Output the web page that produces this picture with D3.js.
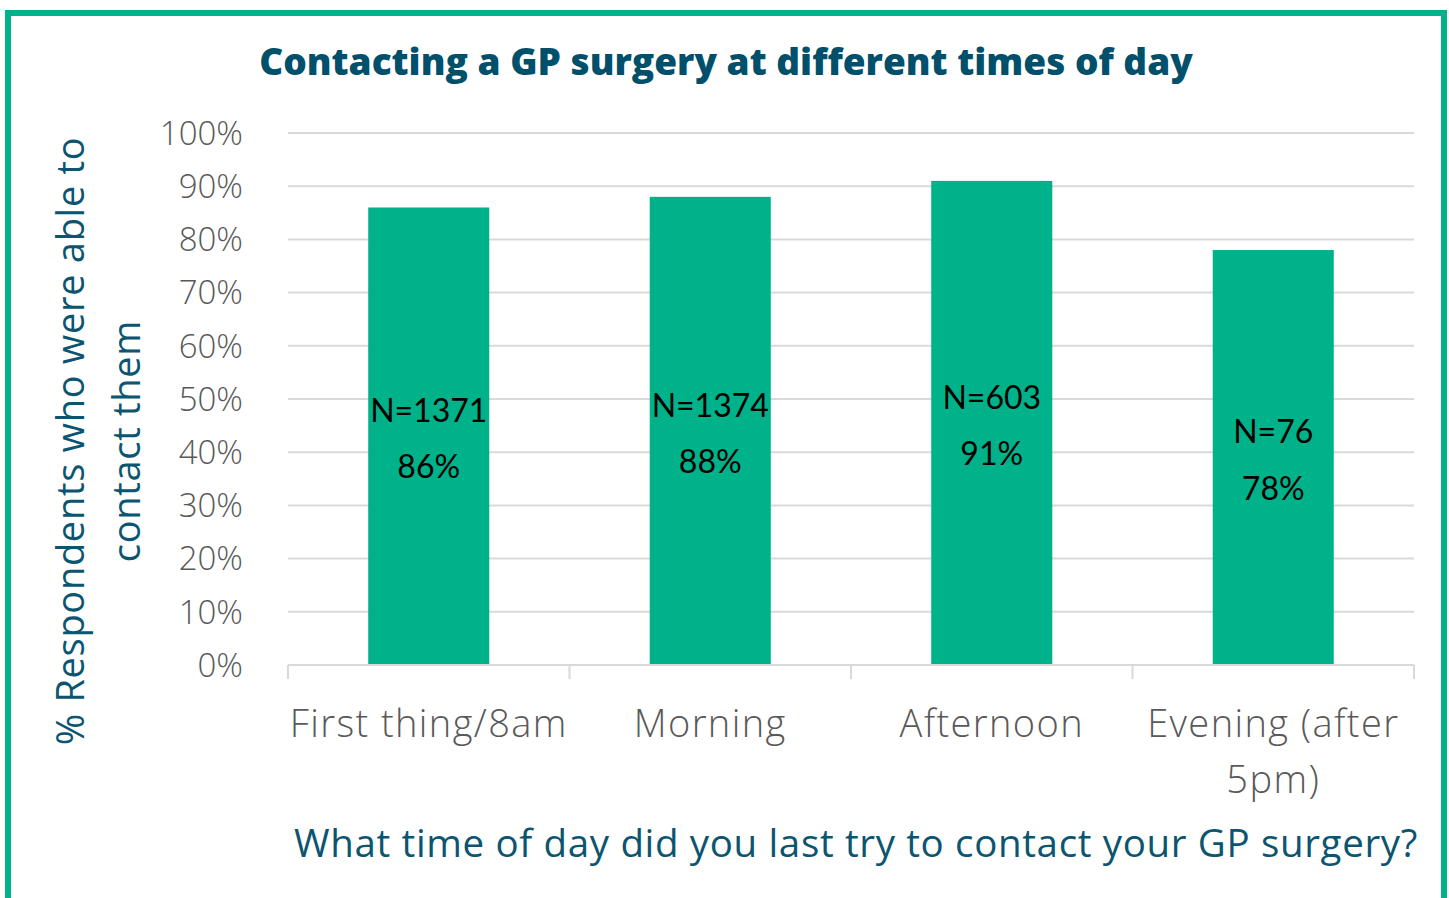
<!DOCTYPE html>
<html><head><meta charset="utf-8">
<script src="https://cdn.jsdelivr.net/npm/d3@7"></script>
<style>
html,body{margin:0;padding:0;background:#fff;}
svg{display:block;}
text{font-family:"Open Sans","Lato",sans-serif;}
</style></head>
<body>
<svg id="chart" width="1449" height="898"></svg>
<script>
const categories = ["First thing/8am", "Morning", "Afternoon", "Evening (after 5pm)"];
const categoryLines = [["First thing/8am"], ["Morning"], ["Afternoon"], ["Evening (after", "5pm)"]];
const values = [0.86, 0.88, 0.91, 0.78];
const counts = [1371, 1374, 603, 76];
const yTicks = [0, 0.1, 0.2, 0.3, 0.4, 0.5, 0.6, 0.7, 0.8, 0.9, 1.0];
const titleText = "Contacting a GP surgery at different times of day";
const yTitleLines = ["% Respondents who were able to", "contact them"];
const xTitleText = "What time of day did you last try to contact your GP surgery?";

const svg = d3.select("#chart");
const green = "#00B28A", teal = "#0B5570", gray = "#595959";

// border
svg.append("path")
  .attr("d", "M8,900 L8,13 L1444,13 L1444,900")
  .attr("fill", "none").attr("stroke", green).attr("stroke-width", 6);

const m = {left: 288, right: 1414, top: 133, bottom: 665};
const x = d3.scaleBand().domain(categories).range([m.left, m.right]).paddingInner(0).paddingOuter(0);
const y = d3.scaleLinear().domain([0, 1]).range([m.bottom, m.top]);
const barW = x.bandwidth() * 0.43;

// gridlines
svg.append("g").selectAll("line").data(yTicks.filter(d => d > 0)).join("line")
  .attr("x1", m.left).attr("x2", m.right)
  .attr("y1", d => y(d)).attr("y2", d => y(d))
  .attr("stroke", "#d9d9d9").attr("stroke-width", 2);

// y tick labels
svg.append("g").selectAll("text").data(yTicks).join("text")
  .attr("x", 243).attr("y", d => y(d)).attr("dy", "0.36em")
  .attr("text-anchor", "end").attr("fill", gray)
  .attr("font-size", 33).attr("font-weight", 300)
  .text(d => d3.format(".0%")(d));

// bars
svg.append("g").selectAll("rect").data(values).join("rect")
  .attr("x", (d, i) => x(categories[i]) + x.bandwidth() / 2 - barW / 2)
  .attr("width", barW)
  .attr("y", d => y(d)).attr("height", d => y(0) - y(d))
  .attr("fill", green);

// x axis baseline + ticks
const ax = svg.append("g").attr("stroke", "#d9d9d9").attr("stroke-width", 2);
ax.append("line").attr("x1", m.left).attr("x2", m.right).attr("y1", y(0)).attr("y2", y(0));
const boundaries = categories.map(c => x(c)).concat([m.right]);
ax.selectAll("line.t").data(boundaries).join("line").attr("class", "t")
  .attr("x1", d => d).attr("x2", d => d).attr("y1", y(0)).attr("y2", y(0) + 14);

// bar labels
const lab = svg.append("g").selectAll("text").data(values).join("text")
  .attr("text-anchor", "middle").attr("fill", "#000")
  .attr("font-size", 32).attr("font-weight", 400)
  .style("font-family", "Lato, sans-serif")
  .attr("x", (d, i) => x(categories[i]) + x.bandwidth() / 2)
  .attr("y", d => (y(d) + y(0)) / 2);
lab.append("tspan").attr("x", (d, i) => x(categories[i]) + x.bandwidth() / 2)
  .attr("dy", "-0.45em").text((d, i) => "N=" + counts[i]);
lab.append("tspan").attr("x", (d, i) => x(categories[i]) + x.bandwidth() / 2)
  .attr("dy", "1.77em").text(d => d3.format(".0%")(d));

// x labels
svg.append("g").selectAll("text").data(categoryLines).join("text")
  .attr("text-anchor", "middle").attr("fill", gray)
  .attr("font-size", 38).attr("font-weight", 300).attr("letter-spacing", 1.4)
  .attr("x", (d, i) => x(categories[i]) + x.bandwidth() / 2)
  .attr("y", 737)
  .selectAll("tspan").data(d => d).join("tspan")
  .attr("x", function() { return d3.select(this.parentNode).attr("x"); })
  .attr("dy", (d, j) => j === 0 ? 0 : 56)
  .text(d => d);

// title
svg.append("text").attr("x", 726).attr("y", 75).attr("text-anchor", "middle")
  .attr("fill", "#004F6B").attr("font-size", 37).attr("font-weight", 800)
  .text(titleText);

// y title
const yt = svg.append("text").attr("transform", "translate(101,441) rotate(-90)")
  .attr("text-anchor", "middle").attr("fill", teal)
  .attr("font-size", 38).attr("font-weight", 400).attr("letter-spacing", 0.7);
yTitleLines.forEach((t, i) => {
  yt.append("tspan").attr("x", 0).attr("y", i === 0 ? -17 : 39).text(t);
});

// x title
svg.append("text").attr("x", 856).attr("y", 857).attr("text-anchor", "middle")
  .attr("fill", teal).attr("font-size", 38.5).attr("font-weight", 400).attr("letter-spacing", 0.65)
  .text(xTitleText);
</script>
</body></html>
